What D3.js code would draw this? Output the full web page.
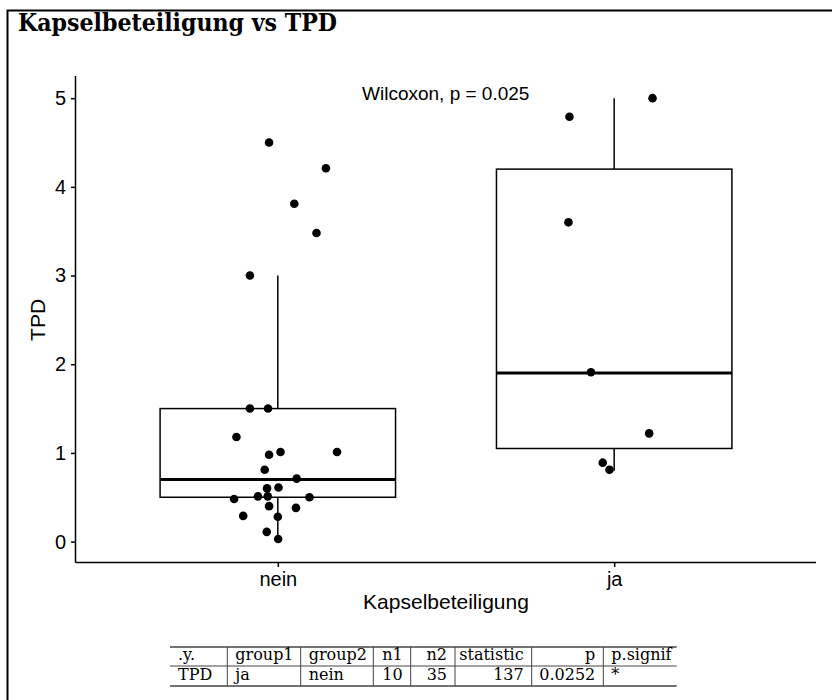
<!DOCTYPE html>
<html>
<head>
<meta charset="utf-8">
<script src="https://cdn.jsdelivr.net/npm/d3@7"></script>
<style>
  body { margin: 0; background: #fff; }
  svg { display: block; }
</style>
</head>
<body>
<svg id="chart" width="832" height="700"></svg>
<script>
// groups and box stats
var groups = ["nein", "ja"];
var boxStats = [
  { group: "nein", low: 0.03, q1: 0.5, median: 0.7, q3: 1.5, high: 3.0 },
  { group: "ja", low: 0.8, q1: 1.05, median: 1.9, q3: 4.2, high: 5.0 }
];

// jittered points (value, jitter in category units)
var neinValues = [4.5, 4.21, 3.81, 3.48, 3.0, 1.5, 1.5, 1.18, 0.98, 1.01, 1.01, 0.81, 0.71,
  0.6, 0.61, 0.48, 0.51, 0.51, 0.5, 0.4, 0.38, 0.29, 0.28, 0.11, 0.03];
var neinJitter = [-0.026, 0.143, 0.049, 0.115, -0.083, -0.083, -0.029, -0.123, -0.026, 0.008, 0.176, -0.039, 0.056,
  -0.032, 0.002, -0.13, -0.059, -0.03, 0.094, -0.026, 0.054, -0.103, 0, -0.033, 0.001];
var jaValues = [5.0, 4.79, 3.6, 1.91, 1.22, 0.89, 0.81];
var jaJitter = [0.114, -0.133, -0.136, -0.069, 0.104, -0.034, -0.014];

var yTicks = [0, 1, 2, 3, 4, 5];

// stats table
var tableHeader = [".y.", "group1", "group2", "n1", "n2", "statistic", "p", "p.signif"];
var tableRow = ["TPD", "ja", "nein", "10", "35", "137", "0.0252", "*"];
var tableAlign = ["l", "l", "l", "r", "r", "r", "r", "l"];

var points = [];
neinValues.forEach(function(v, i) { points.push({ group: "nein", value: v, jitter: neinJitter[i] }); });
jaValues.forEach(function(v, i) { points.push({ group: "ja", value: v, jitter: jaJitter[i] }); });

var svg = d3.select("#chart");
var sans = "'Liberation Sans', Arial, Helvetica, sans-serif";
var serif = "'DejaVu Serif', 'Liberation Serif', serif";

// outer frame
svg.append("rect")
  .attr("x", 7.5).attr("y", 10.5)
  .attr("width", 840).attr("height", 720)
  .attr("fill", "none").attr("stroke", "#000").attr("stroke-width", 2);

// title
svg.append("text")
  .attr("x", 18).attr("y", 31)
  .attr("font-family", serif)
  .attr("font-weight", "bold")
  .attr("font-size", 24)
  .attr("textLength", 319)
  .attr("lengthAdjust", "spacingAndGlyphs")
  .text("Kapselbeteiligung vs TPD");

var plotLeft = 76, plotRight = 816, plotTop = 76, plotBottom = 562;

var x = d3.scalePoint()
  .domain(groups)
  .range([plotLeft, plotRight])
  .padding(0.6);
var step = x.step();

var y = d3.scaleLinear()
  .domain([-0.23, 5.25])
  .range([plotBottom, plotTop]);

var boxW = step * 0.7;

// boxes
var box = svg.append("g");
boxStats.forEach(function(d) {
  var cx = x(d.group);
  box.append("line")
    .attr("x1", cx).attr("x2", cx)
    .attr("y1", y(d.q3)).attr("y2", y(d.high))
    .attr("stroke", "#000").attr("stroke-width", 1.5);
  box.append("line")
    .attr("x1", cx).attr("x2", cx)
    .attr("y1", y(d.q1)).attr("y2", y(d.low))
    .attr("stroke", "#000").attr("stroke-width", 1.5);
  box.append("rect")
    .attr("x", cx - boxW / 2).attr("y", y(d.q3))
    .attr("width", boxW).attr("height", y(d.q1) - y(d.q3))
    .attr("fill", "#fff").attr("stroke", "#000").attr("stroke-width", 1.5);
  box.append("line")
    .attr("x1", cx - boxW / 2).attr("x2", cx + boxW / 2)
    .attr("y1", y(d.median)).attr("y2", y(d.median))
    .attr("stroke", "#000").attr("stroke-width", 3);
});

// points
svg.append("g").selectAll("circle")
  .data(points)
  .enter().append("circle")
  .attr("cx", function(d) { return x(d.group) + d.jitter * step; })
  .attr("cy", function(d) { return y(d.value); })
  .attr("r", 4.3)
  .attr("fill", "#000");

// axes
var xAxis = svg.append("g")
  .attr("transform", "translate(0," + plotBottom + ")")
  .call(d3.axisBottom(x).tickSizeOuter(0).tickSize(5).tickPadding(5));
var yAxis = svg.append("g")
  .attr("transform", "translate(" + plotLeft + ",0)")
  .call(d3.axisLeft(y).tickValues(yTicks).tickFormat(d3.format("d"))
    .tickSizeOuter(0).tickSize(5).tickPadding(5));

[xAxis, yAxis].forEach(function(a) {
  a.select(".domain").attr("stroke", "#000").attr("stroke-width", 1.5);
  a.selectAll(".tick line").attr("stroke", "#000").attr("stroke-width", 1.5);
  a.selectAll(".tick text")
    .attr("fill", "#000")
    .attr("font-family", sans)
    .attr("font-size", 20);
});
xAxis.select(".domain").attr("d", "M" + plotLeft + ",0.5H" + plotRight);
yAxis.select(".domain").attr("d", "M-0.5," + plotTop + "V" + (plotBottom + 0.75));

// axis titles
svg.append("text")
  .attr("x", (plotLeft + plotRight) / 2).attr("y", 609)
  .attr("text-anchor", "middle")
  .attr("font-family", sans).attr("font-size", 21)
  .text("Kapselbeteiligung");

svg.append("text")
  .attr("transform", "translate(45," + y(2.5) + ") rotate(-90)")
  .attr("text-anchor", "middle")
  .attr("font-family", sans).attr("font-size", 21)
  .text("TPD");

// test label
svg.append("text")
  .attr("x", 362).attr("y", y(5) + 2)
  .attr("font-family", sans).attr("font-size", 19)
  .text("Wilcoxon, p = 0.025");

// stats table
var colEdges = [170, 227.3, 300.7, 373.3, 410.7, 455, 531.7, 603.3, 676.7];
var rowLines = [647, 666, 686];
var tbl = svg.append("g");
rowLines.forEach(function(ly, i) {
  tbl.append("line")
    .attr("x1", colEdges[0]).attr("x2", colEdges[colEdges.length - 1])
    .attr("y1", ly).attr("y2", ly)
    .attr("stroke", "#444").attr("stroke-width", i === 1 ? 1 : 1.3);
});
colEdges.slice(1, -1).forEach(function(cx) {
  tbl.append("line")
    .attr("x1", cx).attr("x2", cx)
    .attr("y1", rowLines[0]).attr("y2", rowLines[2])
    .attr("stroke", "#444").attr("stroke-width", 1);
});
[tableHeader, tableRow].forEach(function(row, r) {
  row.forEach(function(txt, c) {
    var a = tableAlign[c];
    tbl.append("text")
      .attr("x", a === "l" ? colEdges[c] + 8 : colEdges[c + 1] - 8)
      .attr("y", r === 0 ? 660 : 680)
      .attr("text-anchor", a === "l" ? "start" : "end")
      .attr("font-family", serif).attr("font-size", 16)
      .text(txt);
  });
});
</script>
</body>
</html>
